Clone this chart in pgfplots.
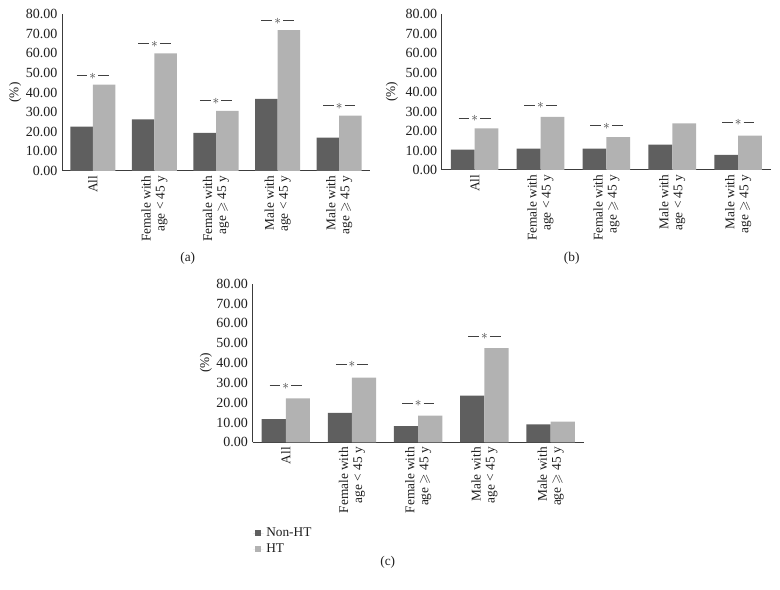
\documentclass[border=0pt]{standalone}
\usepackage{amssymb}
\usepackage{fontspec}
\setmainfont{Liberation Serif}
\usepackage{pgfplots}
\pgfplotsset{compat=1.18}
\definecolor{darkbar}{RGB}{95,95,95}
\definecolor{lightbar}{RGB}{178,178,178}
\definecolor{axisgray}{RGB}{60,60,60}
\definecolor{textgray}{RGB}{30,30,30}
\definecolor{markgray}{RGB}{65,65,65}
\newcommand{\lblfont}{\fontsize{10}{10.5}\selectfont}
\newcommand{\ytfont}{\fontsize{10.5}{11}\selectfont}
\newcommand{\sigmark}{\textcolor{markgray}{\rule[2.1pt]{8pt}{0.75pt}\hspace{1.6pt}$\ast$\hspace{1.6pt}\rule[2.1pt]{8pt}{0.75pt}}}
\pgfplotsset{
  mypanel/.style={
    scale only axis, anchor=south west,
    xmin=-0.5, xmax=4.5, ymin=0, ymax=80,
    axis x line*=bottom, axis y line*=left,
    axis line style={-, draw=axisgray, line width=0.75pt},
    major tick length=0pt,
    xtick={0,1,2,3,4}, ytick={0,10,...,80},
    xticklabels={All, {Female with\\age < 45 y}, {Female with\\age $\geqslant$ 45 y}, {Male with\\age < 45 y}, {Male with\\age $\geqslant$ 45 y}},
    tick label style={text=textgray},
    xticklabel style={font=\lblfont, rotate=90, anchor=east, align=right},
    yticklabel style={font=\ytfont, /pgf/number format/fixed, /pgf/number format/fixed zerofill, /pgf/number format/precision=2, /pgf/number format/assume math mode=true},
    every axis y label/.style={at={(axis description cs:#1,0.5)}, rotate=90, anchor=center, font=\lblfont, text=textgray},
    ylabel={(\%)},
    clip=false,
  },
  mypanel/.default={-0.152},
  sigplot/.style={only marks, mark=text, text mark={\sigmark}, text mark as node=true, text mark style={inner sep=0pt, anchor=center}, forget plot},
}
\begin{document}
\begin{tikzpicture}
\path[use as bounding box] (0,0) rectangle (585pt,441.75pt);
% Panel (a)
\begin{axis}[mypanel={-0.152}, at={(46.5pt,313.5pt)}, width=231pt, height=117.75pt]
\addplot[ybar, bar width=16.9pt, bar shift=-8.45pt, fill=darkbar, draw=none] coordinates {(0,22.6) (1,26.3) (2,19.4) (3,36.8) (4,17.0)};
\addplot[ybar, bar width=16.9pt, bar shift=8.45pt, fill=lightbar, draw=none] coordinates {(0,44.0) (1,59.9) (2,30.6) (3,71.8) (4,28.2)};
\addplot[sigplot] coordinates {(0,48.4) (1,64.7) (2,35.6) (3,76.4) (4,33.1)};
\end{axis}
% Panel (b)
\begin{axis}[mypanel={-0.151}, at={(331.3pt,314.25pt)}, width=247pt, height=117pt]
\addplot[ybar, bar width=17.85pt, bar shift=-8.925pt, fill=darkbar, draw=none] coordinates {(0,10.4) (1,10.9) (2,10.9) (3,13.0) (4,7.7)};
\addplot[ybar, bar width=17.85pt, bar shift=8.925pt, fill=lightbar, draw=none] coordinates {(0,21.4) (1,27.2) (2,16.9) (3,23.9) (4,17.6)};
\addplot[sigplot] coordinates {(0,26.3) (1,33.2) (2,22.6) (4,24.3)};
\end{axis}
% Panel (c)
\begin{axis}[mypanel={-0.141}, at={(189.5pt,110pt)}, width=248.25pt, height=119pt,
  legend style={at={(axis description cs:0,-0.52)}, anchor=north west, draw=none, fill=none, inner sep=0pt, font=\lblfont, text=textgray, row sep=0pt},
  legend cell align=left,
  legend image code/.code={\fill[#1] (1.5pt,-2.25pt) rectangle (6pt,2.25pt); \path (0pt,0pt) -- (8pt,0pt);}]
\addplot[ybar, bar width=18.15pt, bar shift=-9.075pt, fill=darkbar, draw=none] coordinates {(0,11.7) (1,14.9) (2,8.2) (3,23.6) (4,9.0)};
\addlegendentry{Non-HT}
\addplot[ybar, bar width=18.15pt, bar shift=9.075pt, fill=lightbar, draw=none] coordinates {(0,22.2) (1,32.6) (2,13.5) (3,47.5) (4,10.4)};
\addlegendentry{HT}
\addplot[sigplot] coordinates {(0,28.4) (1,39.1) (2,19.6) (3,53.3)};
\end{axis}
\node[font=\lblfont, text=textgray] at (140.8pt,248.25pt) {(a)};
\node[font=\lblfont, text=textgray] at (428.8pt,248.25pt) {(b)};
\node[font=\lblfont, text=textgray] at (290.8pt,19.7pt) {(c)};
\end{tikzpicture}
\end{document}
